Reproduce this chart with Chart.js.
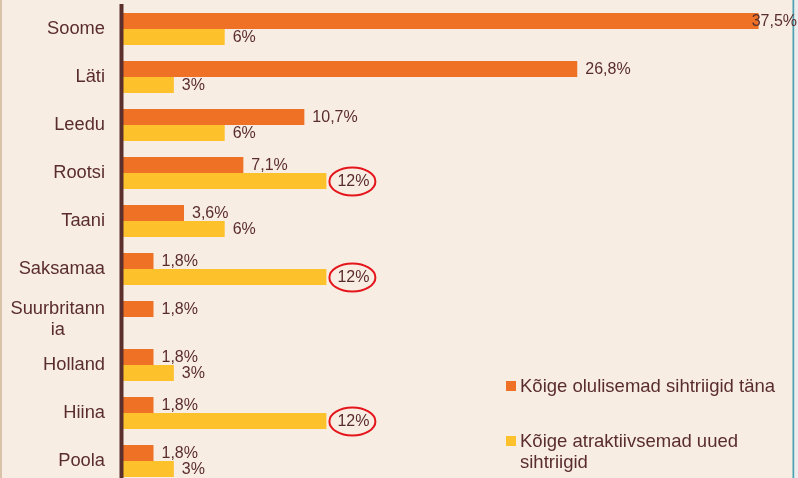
<!DOCTYPE html>
<html><head><meta charset="utf-8">
<script src="https://cdn.jsdelivr.net/npm/chart.js@4.4.0/dist/chart.umd.min.js"></script>
<style>
html,body{margin:0;padding:0;overflow:hidden;background:#f8ede3;width:798px;height:478px}
#wrap{position:relative;width:798px;height:490px}
</style></head><body>
<div id="wrap"><canvas id="c"></canvas></div>
<script>
const categories = ['Soome','Läti','Leedu','Rootsi','Taani','Saksamaa','Suurbritann\nia','Holland','Hiina','Poola'];
const seriesNames = ['Kõige olulisemad sihtriigid täna','Kõige atraktiivsemad uued\nsihtriigid'];
const todayValues = [37.5,26.8,10.7,7.1,3.6,1.8,1.8,1.8,1.8,1.8];
const attractiveValues = [6,3,6,12,6,12,null,3,12,3];
const highlighted = ['Rootsi','Saksamaa','Hiina'];
const seriesColors = ['#ef7125','#fdc12c'];

const TEXT = '#5a2d2d';
const FONT = 'Arial, "Liberation Sans", sans-serif';

const deco = {
  id:'deco',
  beforeDraw(chart){
    const c = chart.ctx, W = chart.width, H = chart.height;
    c.save();
    c.fillStyle = '#f8ede3'; c.fillRect(0,0,W,H);
    c.fillStyle = '#d8c2a8'; c.fillRect(0,0,2,H);
    c.fillStyle = '#ececec'; c.fillRect(794,0,W-794,H);
    c.fillStyle = '#4aa2b4'; c.fillRect(792.5,0,1.7,H);
    c.restore();
  },
  afterDatasetsDraw(chart){
    const c = chart.ctx, ca = chart.chartArea, ys = chart.scales.y;
    c.save();
    // axis line
    c.fillStyle = '#5b302c';
    c.fillRect(119.5, ca.top - 1, 4, chart.height);
    // value labels
    c.font = '16px ' + FONT;
    c.fillStyle = TEXT;
    c.textBaseline = 'middle';
    c.textAlign = 'left';
    chart.data.datasets.forEach((ds, i) => {
      const meta = chart.getDatasetMeta(i);
      ds.data.forEach((v, j) => {
        if (v === null || v === undefined) return;
        const bar = meta.data[j];
        const txt = String(v).replace('.', ',') + '%';
        const w = c.measureText(txt).width;
        const hl = i === 1 && highlighted.includes(categories[j]);
        let x = bar.x + 8 + (hl ? 3 : 0);
        if (x + w > 797) x = 797 - w;
        const y = bar.y + 1;
        c.fillStyle = TEXT;
        c.fillText(txt, x, y);
        if (hl) {
          c.beginPath();
          c.ellipse(x + w/2 - 1, y - 0.5, 23, 14, 0, 0, Math.PI*2);
          c.strokeStyle = '#e4161c';
          c.lineWidth = 2;
          c.stroke();
        }
      });
    });
    // category labels
    c.font = '18.3px ' + FONT;
    c.fillStyle = TEXT;
    c.textAlign = 'center';
    categories.forEach((lab, j) => {
      const lines = lab.split('\n');
      const maxW = Math.max(...lines.map(l => c.measureText(l).width));
      const cx = 105 - maxW/2;
      const yc = ys.getPixelForTick(j);
      lines.forEach((l, k) => {
        const off = (k - (lines.length-1)/2) * 21 + (lines.length > 1 ? 2 : 0);
        c.fillText(l, cx, yc + off);
      });
    });
    // legend
    c.font = '18.5px ' + FONT;
    c.textAlign = 'left';
    c.textBaseline = 'alphabetic';
    const legY = [381, 436];
    chart.data.datasets.forEach((ds, i) => {
      c.fillStyle = ds.backgroundColor;
      c.fillRect(506, legY[i], 10, 10);
      c.fillStyle = TEXT;
      ds.label.split('\n').forEach((l, k) => {
        c.fillText(l, 520, legY[i] + 11.3 + k*21);
      });
    });
    c.restore();
  }
};

new Chart(document.getElementById('c'), {
  type:'bar',
  data:{
    labels: categories,
    datasets:[
      {label: seriesNames[0], data: todayValues, backgroundColor: seriesColors[0], categoryPercentage: 32/48, barPercentage: 1},
      {label: seriesNames[1], data: attractiveValues, backgroundColor: seriesColors[1], categoryPercentage: 32/48, barPercentage: 1}
    ]
  },
  options:{
    indexAxis:'y',
    responsive:true,
    maintainAspectRatio:false,
    animation:false,
    layout:{padding:{top:5,bottom:5,left:0,right:5.5}},
    plugins:{legend:{display:false}, tooltip:{enabled:false}},
    scales:{
      x:{display:false, min:0, max:39.5},
      y:{ticks:{display:false}, grid:{display:false}, border:{display:false},
         afterFit(s){ s.width = 123; }}
    }
  },
  plugins:[deco]
});
</script>
</body></html>
